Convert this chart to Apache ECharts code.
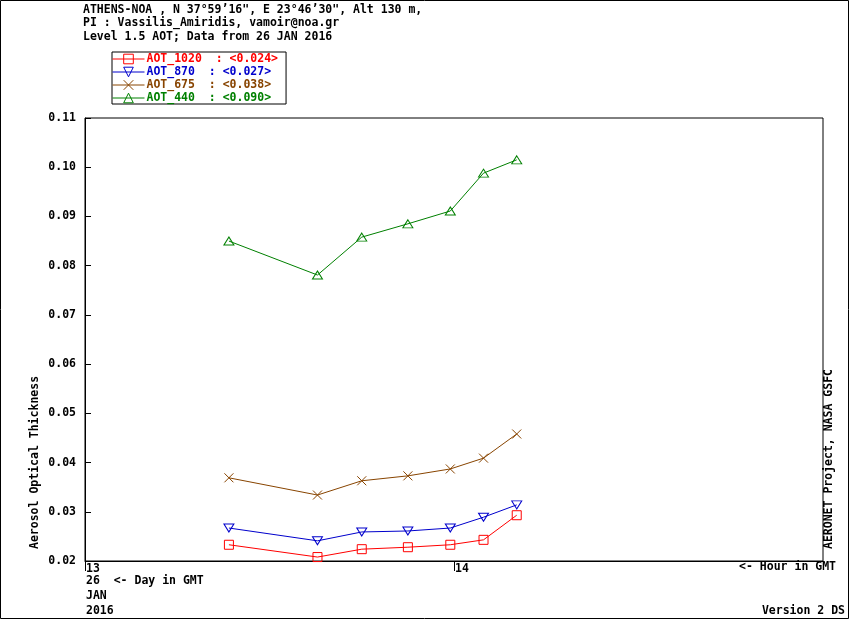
<!DOCTYPE html>
<html>
<head>
<meta charset="utf-8">
<script src="https://cdn.jsdelivr.net/npm/echarts@6/dist/echarts.min.js"></script>
<style>
  html, body { margin: 0; padding: 0; background: #fff; }
  #container { width: 850px; height: 620px; }
</style>
</head>
<body>
<div id="container"></div>
<script>
// hour of day (GMT) of each measurement
const hours = [13.39, 13.63, 13.75, 13.875, 13.99, 14.08, 14.17];

const aot1020 = [0.0233, 0.0208, 0.0224, 0.0228, 0.0233, 0.0243, 0.0293];
const aot870 = [0.0267, 0.0241, 0.0259, 0.0261, 0.0267, 0.0289, 0.0314];
const aot675 = [0.0369, 0.0334, 0.0363, 0.0373, 0.0387, 0.0409, 0.0458];
const aot440 = [0.0850, 0.0781, 0.0858, 0.0885, 0.0911, 0.0988, 0.1015];

const seriesNames = ['AOT_1020', 'AOT_870', 'AOT_675', 'AOT_440'];
const dayMeans = ['0.024', '0.027', '0.038', '0.090'];

const titleLines = [
    'ATHENS-NOA , N 37\u00b059\u201916", E 23\u00b046\u201930", Alt 130 m,',
    'PI : Vassilis_Amiridis, vamoir@noa.gr',
    'Level 1.5 AOT; Data from 26 JAN 2016'
];

function draw_aot() {
    let dom = document.getElementById("container");
    let myChart = echarts.init(dom, null, {renderer: 'canvas'});

    const font = 'DejaVu Sans Mono';
    const fs = 11.5;
    const colors = ['#ff0000', '#0000cc', '#884400', '#008000'];
    const noFill = 'rgba(0,0,0,0)';

    function pairs(vals) {
        return hours.map(function (h, i) { return [h, vals[i]]; });
    }

    // hollow markers drawn with a 1px outline
    function lineSeries(i, symbol, size, rotate, vals) {
        return {
            type: 'line',
            name: seriesNames[i],
            symbol: symbol,
            symbolSize: size,
            symbolRotate: rotate,
            lineStyle: {width: 1, color: colors[i]},
            itemStyle: {color: noFill, borderColor: colors[i], borderWidth: 1},
            emphasis: {disabled: true},
            data: pairs(vals)
        };
    }

    function label(text, x, y, align) {
        return {type: 'text', x: x, y: y, silent: true,
            style: {text: text, font: 'bold ' + fs + 'px ' + font, fill: '#000',
                align: align, verticalAlign: 'middle'}};
    }

    let option = {
        animation: false,
        backgroundColor: '#fff',
        title: {
            text: titleLines.join('\n'),
            left: 83,
            top: 3,
            padding: 0,
            textStyle: {fontFamily: font, fontWeight: 'bold', fontSize: fs, lineHeight: 13.5, color: '#000'}
        },
        legend: {
            orient: 'vertical',
            left: 112,
            top: 52,
            padding: [1, 8, 0, 0],
            itemGap: 1,
            itemWidth: 32,
            itemHeight: 12,
            borderColor: '#000',
            borderWidth: 1,
            itemStyle: {borderWidth: 1},
            lineStyle: {width: 1},
            formatter: function (name) {
                return name + '  : <' + dayMeans[seriesNames.indexOf(name)] + '>';
            },
            data: seriesNames.map(function (n, i) {
                return {name: n, textStyle: {color: colors[i]}};
            }),
            textStyle: {fontFamily: font, fontWeight: 'bold', fontSize: fs, lineHeight: 12, padding: [0, 0, 0, -3]}
        },
        grid: {
            left: 85,
            right: 27,
            top: 118,
            bottom: 59,
            show: true,
            borderColor: '#000',
            borderWidth: 1
        },
        xAxis: {
            type: 'value',
            min: 13,
            max: 15,
            interval: 1,
            axisLine: {lineStyle: {color: '#000', width: 1}},
            axisTick: {length: 10, lineStyle: {color: '#000'}},
            splitLine: {show: false},
            axisLabel: {
                showMaxLabel: false,
                align: 'left',
                margin: 2,
                padding: [0, 0, 0, 1],
                color: '#000',
                fontFamily: font,
                fontWeight: 'bold',
                fontSize: fs
            }
        },
        yAxis: {
            type: 'value',
            min: 0.02,
            max: 0.11,
            interval: 0.01,
            axisLine: {show: true, lineStyle: {color: '#000', width: 1}},
            axisTick: {show: true, inside: true, length: 6, lineStyle: {color: '#000'}},
            splitLine: {show: false},
            axisLabel: {
                margin: 9,
                color: '#000',
                fontFamily: font,
                fontWeight: 'bold',
                fontSize: fs,
                formatter: function (v) { return v.toFixed(2); }
            }
        },
        graphic: [
            {type: 'rect', silent: true, shape: {x: 0.5, y: 0.5, width: 848, height: 618},
                style: {fill: null, stroke: '#000', lineWidth: 1}},
            Object.assign(label('Aerosol Optical Thickness', 35, 549, 'left'), {rotation: Math.PI / 2}),
            Object.assign(label('AERONET Project, NASA GSFC', 829, 549, 'left'), {rotation: Math.PI / 2}),
            label('<- Hour in GMT', 836, 567, 'right'),
            label('26  <- Day in GMT', 86, 581, 'left'),
            label('JAN', 86, 596, 'left'),
            label('2016', 86, 611, 'left'),
            label('Version 2 DS', 845, 611, 'right')
        ],
        series: [
            lineSeries(0, 'rect', [9, 9], 0, aot1020),
            lineSeries(1, 'triangle', [10, 8], 180, aot870),
            lineSeries(2, 'path://M0,0L10,10M0,10L10,0', [9, 9], 0, aot675),
            lineSeries(3, 'triangle', [10, 8], 0, aot440)
        ]
    };

    if (option && typeof option === "object") {
        myChart.setOption(option, true);
    }
}

draw_aot();
</script>
</body>
</html>
